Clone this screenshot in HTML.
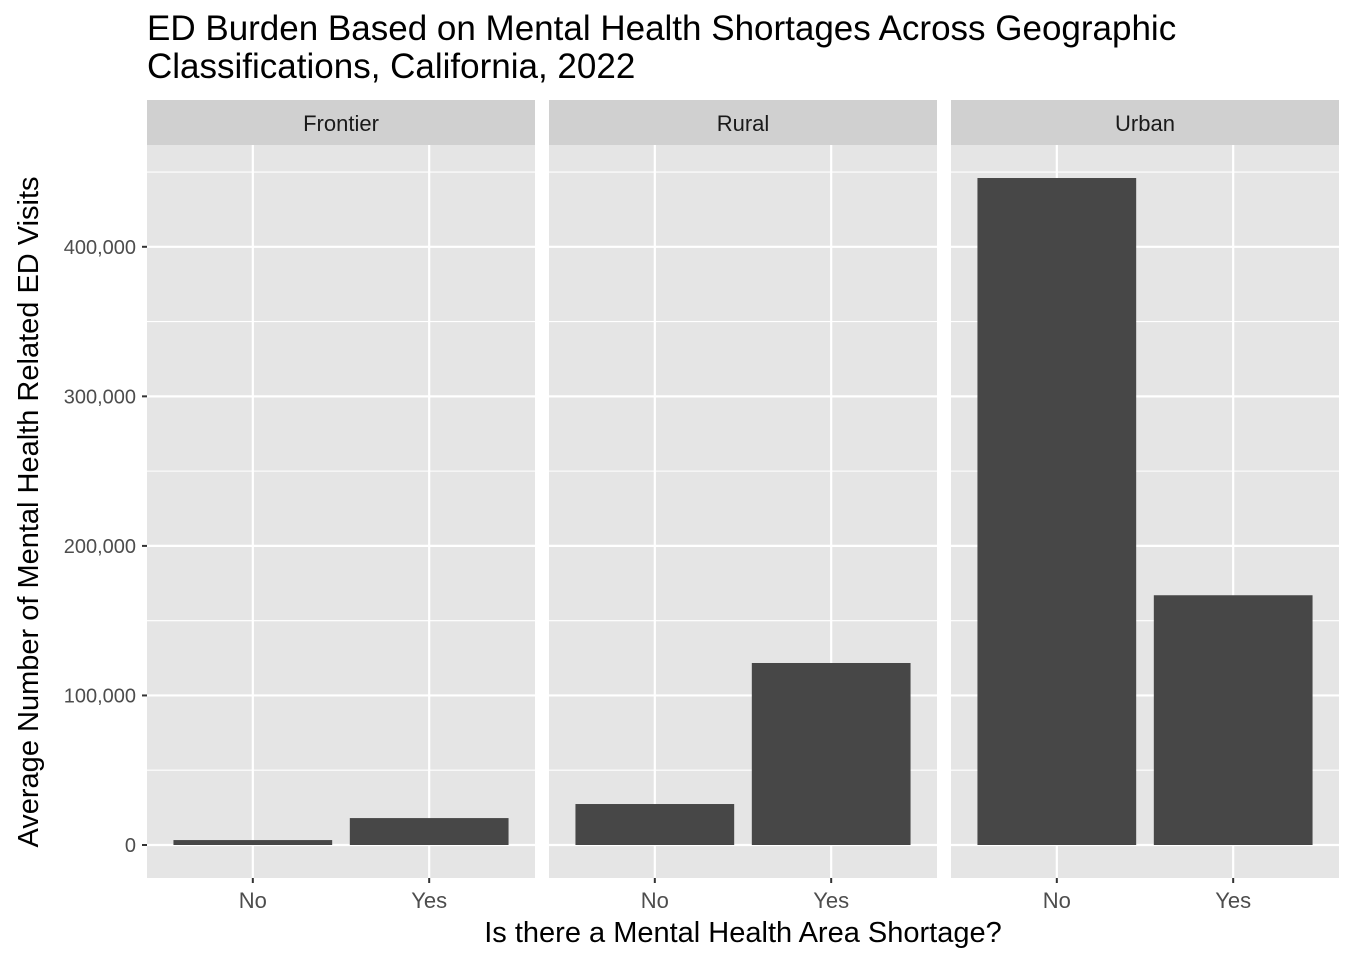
<!DOCTYPE html>
<html><head><meta charset="utf-8"><style>
body{margin:0;background:#fff;font-family:"Liberation Sans",Arial,sans-serif}
</style></head><body>
<svg id="chart" width="1354" height="962" xmlns="http://www.w3.org/2000/svg" font-family="Liberation Sans, Arial, sans-serif">
<text x="147" y="40" font-size="35" fill="#000">ED Burden Based on Mental Health Shortages Across Geographic</text>
<text x="147" y="78" font-size="35" fill="#000">Classifications, California, 2022</text>
<text x="0" y="0" font-size="29" fill="#000" text-anchor="middle" transform="translate(38,512) rotate(-90)">Average Number of Mental Health Related ED Visits</text>
<text x="743" y="942" font-size="29" fill="#000" text-anchor="middle">Is there a Mental Health Area Shortage?</text>
<g id="panels"></g>
</svg>
<script>
const panelNames = ["Frontier", "Rural", "Urban"];
const categories = ["No", "Yes"];
const noValues = [3300, 27400, 446000];
const yesValues = [18000, 121700, 167000];
const yTicks = [0, 100000, 200000, 300000, 400000];
const yTickLabels = ["0", "100,000", "200,000", "300,000", "400,000"];

const NS = "http://www.w3.org/2000/svg";
const g = document.getElementById("panels");
const panelX = [147, 549, 951], panelW = 388;
const plotTop = 145, plotBot = 878;
function y(v){ return 845 - v * 0.0014955; }
function x(pi, ci){ const unit = panelW / 2.2; return panelX[pi] + (0.6 + ci) * unit; }
function mk(tag, attrs, parent){ const e = document.createElementNS(NS, tag); for (const k in attrs) e.setAttribute(k, attrs[k]); (parent||g).appendChild(e); return e; }

panelNames.forEach((name, pi) => {
  const px = panelX[pi];
  const bg = mk("rect", {x: px, y: plotTop, width: panelW, height: plotBot - plotTop, fill: "#e5e5e5"});
  
  
  const strip = mk("rect", {x: px, y: 100, width: panelW, height: 45, fill: "#d0d0d0"});
  
  
  const st = mk("text", {x: px + panelW/2, y: 131, "font-size": 22, fill: "#1a1a1a", "text-anchor": "middle"});
  st.textContent = name;
  
  
  for (let i = 0; i < yTicks.length; i++) {
    const mv = yTicks[i] + 50000;
    const ln = mk("line", {x1: px, x2: px + panelW, y1: y(mv), y2: y(mv), stroke: "#fff", "stroke-width": 1.1});
    
    
  }
  yTicks.forEach(t => {
    const ln = mk("line", {x1: px, x2: px + panelW, y1: y(t), y2: y(t), stroke: "#fff", "stroke-width": 2.2});
    
    
  });
  categories.forEach((c, ci) => {
    const cx = x(pi, ci);
    const vl = mk("line", {x1: cx, x2: cx, y1: plotTop, y2: plotBot, stroke: "#fff", "stroke-width": 2.2});
    
    
    const v = ci === 0 ? noValues[pi] : yesValues[pi];
    const bw = panelW / 2.2 * 0.9;
    const b = mk("rect", {x: cx - bw/2, y: y(v), width: bw, height: y(0) - y(v), fill: "#474747"});
    
    
    const tk = mk("line", {x1: cx, x2: cx, y1: plotBot, y2: plotBot + 5, stroke: "#333", "stroke-width": 2});
    
    
    const tl = mk("text", {x: cx, y: 908, "font-size": 22, fill: "#4d4d4d", "text-anchor": "middle"});
    tl.textContent = c;
    
    
  });
});
yTicks.forEach((t, i) => {
  const tk = mk("line", {x1: 142, x2: 147, y1: y(t), y2: y(t), stroke: "#333", "stroke-width": 2});
  
  
  const tl = mk("text", {x: 136, y: y(t) + 7, "font-size": 20, fill: "#4d4d4d", "text-anchor": "end"});
  tl.textContent = yTickLabels[i];
  
  
});
</script>
</body></html>
